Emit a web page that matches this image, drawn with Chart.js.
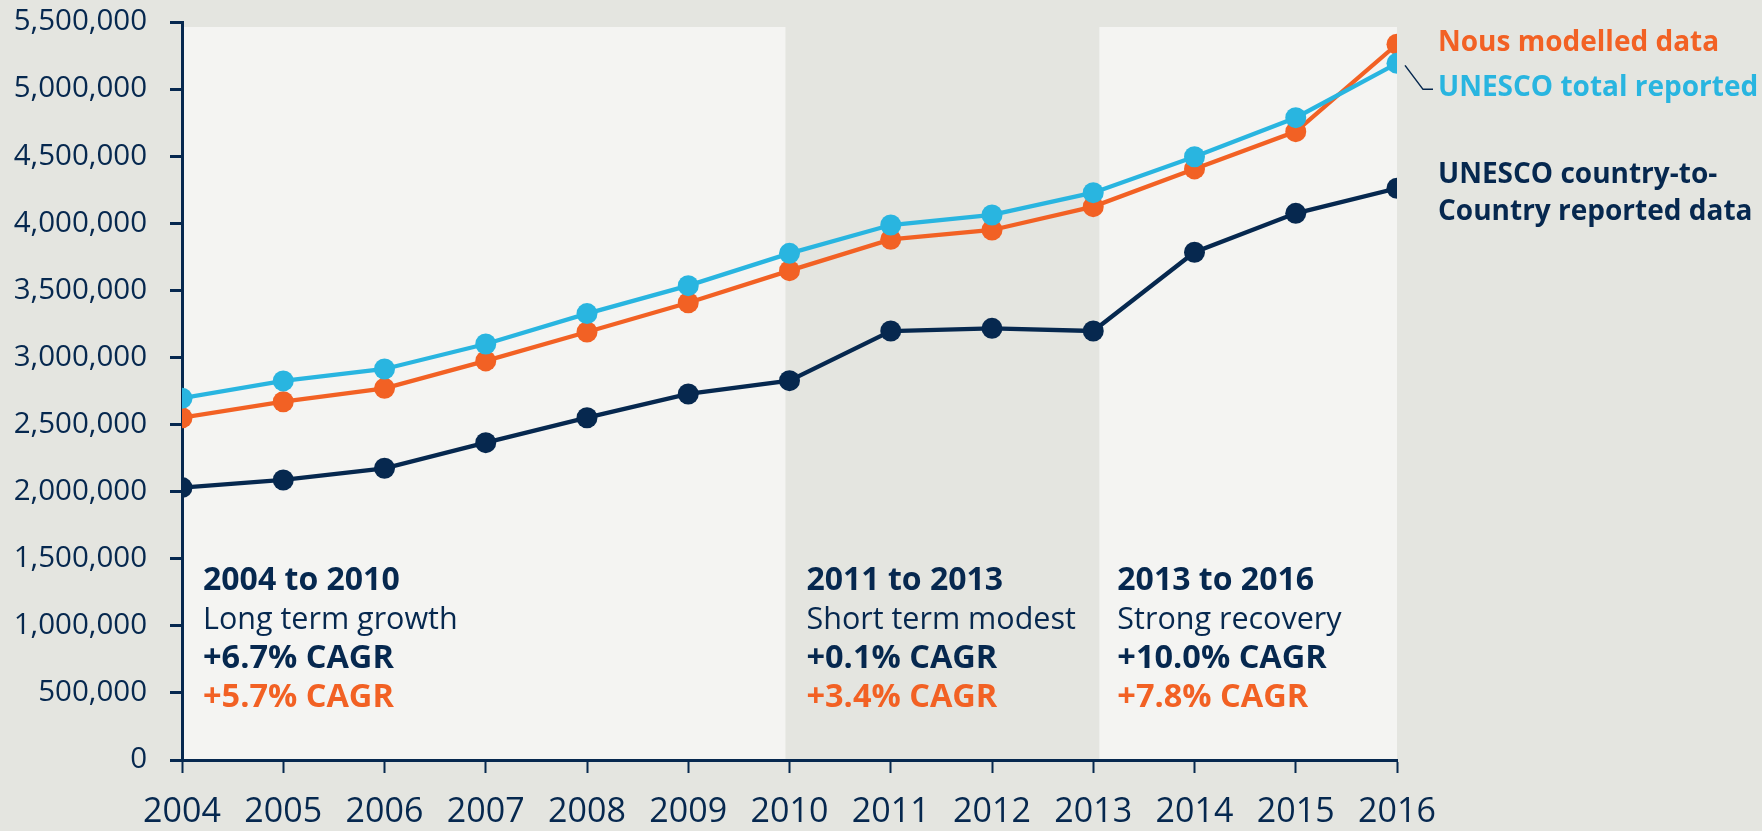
<!DOCTYPE html>
<html>
<head>
<meta charset="utf-8">
<script src="https://cdn.jsdelivr.net/npm/chart.js@4.4.1/dist/chart.umd.min.js"></script>
<style>
  html, body { margin: 0; padding: 0; background: #e4e5e0; }
  #wrap { width: 1762px; height: 831px; position: relative; }
  canvas { display: block; }
</style>
</head>
<body>
<div id="wrap"><canvas id="c" width="1762" height="831"></canvas></div>
<script>
// ---------- DATA ----------
const YEARS = [2004, 2005, 2006, 2007, 2008, 2009, 2010, 2011, 2012, 2013, 2014, 2015, 2016];
const NOUS_MODELLED = [2551000, 2670000, 2770000, 2974000, 3190000, 3408000, 3647000, 3880000, 3950000, 4124000, 4405000, 4683000, 5334000];
const UNESCO_TOTAL = [2696000, 2825000, 2914000, 3100000, 3327000, 3535000, 3776000, 3987000, 4062000, 4228000, 4496000, 4787000, 5192000];
const UNESCO_C2C = [2030000, 2087000, 2174000, 2365000, 2551000, 2728000, 2827000, 3197000, 3217000, 3197000, 3784000, 4074000, 4261000];
const Y_TICKS = [0, 500000, 1000000, 1500000, 2000000, 2500000, 3000000, 3500000, 4000000, 4500000, 5000000, 5500000];
const SERIES_NAMES = ['Nous modelled data', 'UNESCO total reported', ['UNESCO country-to-', 'Country reported data']];
// periods (light / shaded / light backgrounds), in years
const PERIOD_EDGES = [2004, 2009.96, 2013.06, 2016];
const PERIOD_TITLES = ['2004 to 2010', '2011 to 2013', '2013 to 2016'];
const PERIOD_SUBTITLES = ['Long term growth', 'Short term modest', 'Strong recovery'];
const PERIOD_CAGR_C2C = ['+6.7% CAGR', '+0.1% CAGR', '+10.0% CAGR'];
const PERIOD_CAGR_NOUS = ['+5.7% CAGR', '+3.4% CAGR', '+7.8% CAGR'];
const TEXT_ANCHOR_VALUE = 1267000; // baseline of the period titles, in y units

// ---------- STYLE ----------
const NAVY = '#06284f';
const ORANGE = '#f26124';
const BLUE = '#29b5e0';
const LIGHT = '#f4f4f2';
const FONT = "'Open Sans', 'Noto Sans', sans-serif";
const TEXT_INSET = [21, 21, 18];

const toXY = arr => arr.map((v, i) => ({ x: YEARS[i], y: v }));

const bandsPlugin = {
  id: 'bands',
  beforeDraw(chart) {
    const { ctx, chartArea, scales: { x } } = chart;
    ctx.save();
    ctx.fillStyle = LIGHT;
    const top = chartArea.top + 5;
    [[0, 1], [2, 3]].forEach(([a, b]) => {
      const x0 = x.getPixelForValue(PERIOD_EDGES[a]);
      const x1 = x.getPixelForValue(PERIOD_EDGES[b]);
      ctx.fillRect(x0, top, x1 - x0, chartArea.bottom - top);
    });
    ctx.restore();
  }
};

const textPlugin = {
  id: 'texts',
  afterDraw(chart) {
    const { ctx, chartArea, scales: { x, y } } = chart;
    ctx.save();
    ctx.textAlign = 'left';
    ctx.textBaseline = 'alphabetic';
    const base = y.getPixelForValue(TEXT_ANCHOR_VALUE);
    const lh = 39;
    for (let i = 0; i < 3; i++) {
      const tx = x.getPixelForValue(PERIOD_EDGES[i]) + TEXT_INSET[i];
      ctx.fillStyle = NAVY;
      ctx.font = `bold 32px ${FONT}`;
      ctx.fillText(PERIOD_TITLES[i], tx, base);
      ctx.font = `30.5px ${FONT}`;
      ctx.fillText(PERIOD_SUBTITLES[i], tx, base + lh);
      ctx.font = `bold 32.5px ${FONT}`;
      ctx.fillText(PERIOD_CAGR_C2C[i], tx, base + 2 * lh);
      ctx.fillStyle = ORANGE;
      ctx.fillText(PERIOD_CAGR_NOUS[i], tx, base + 3 * lh);
    }
    // series labels on the right
    const last = YEARS.length - 1;
    const lx = chartArea.right + 41;
    ctx.textBaseline = 'middle';
    ctx.font = `bold 28px ${FONT}`;
    ctx.fillStyle = ORANGE;
    ctx.fillText(SERIES_NAMES[0], lx, y.getPixelForValue(NOUS_MODELLED[last]) - 1);
    const by = y.getPixelForValue(UNESCO_TOTAL[last]);
    ctx.fillStyle = BLUE;
    ctx.fillText(SERIES_NAMES[1], lx, by + 25);
    const ny = y.getPixelForValue(UNESCO_C2C[last]);
    ctx.fillStyle = NAVY;
    ctx.fillText(SERIES_NAMES[2][0], lx, ny - 13);
    ctx.fillText(SERIES_NAMES[2][1], lx, ny + 24);
    // connector for the blue label
    const px = x.getPixelForValue(YEARS[last]);
    ctx.strokeStyle = NAVY;
    ctx.lineWidth = 1.5;
    ctx.beginPath();
    ctx.moveTo(px + 8, by + 2);
    ctx.lineTo(px + 26, by + 26);
    ctx.lineTo(px + 36, by + 26);
    ctx.stroke();
    ctx.restore();
  }
};

const ds = (label, data, color, order) => ({
  label,
  data: toXY(data),
  borderColor: color,
  backgroundColor: color,
  pointBackgroundColor: color,
  pointBorderColor: color,
  pointBorderWidth: 0,
  pointRadius: 10.5,
  pointHoverRadius: 10.5,
  borderWidth: 4.3,
  tension: 0,
  order
});

new Chart(document.getElementById('c'), {
  type: 'line',
  data: {
    datasets: [
      ds(SERIES_NAMES[1], UNESCO_TOTAL, BLUE, 1),
      ds(SERIES_NAMES[0], NOUS_MODELLED, ORANGE, 2),
      ds(SERIES_NAMES[2].join(' '), UNESCO_C2C, NAVY, 3)
    ]
  },
  plugins: [bandsPlugin, textPlugin],
  options: {
    responsive: false,
    animation: false,
    events: [],
    layout: { padding: { top: 22, right: 365, bottom: 0, left: 0 } },
    plugins: { legend: { display: false }, tooltip: { enabled: false } },
    scales: {
      x: {
        type: 'linear',
        min: YEARS[0],
        max: YEARS[YEARS.length - 1],
        afterBuildTicks: s => { s.ticks = YEARS.map(v => ({ value: v })); },
        afterFit: s => { s.height = 71; },
        border: { display: true, color: NAVY, width: 3 },
        grid: { display: true, drawOnChartArea: false, drawTicks: true, tickLength: 13, tickColor: NAVY, tickWidth: 2 },
        ticks: {
          color: NAVY, padding: 19, maxRotation: 0, autoSkip: false,
          font: { family: FONT, size: 34 },
          callback: v => String(v)
        }
      },
      y: {
        min: Y_TICKS[0],
        max: Y_TICKS[Y_TICKS.length - 1],
        afterBuildTicks: s => { s.ticks = Y_TICKS.map(v => ({ value: v })); },
        afterFit: s => { s.width = 182; s.paddingTop = 0; s.paddingBottom = 0; },
        border: { display: true, color: NAVY, width: 3 },
        grid: { display: true, drawOnChartArea: false, drawTicks: true, tickLength: 12, tickColor: NAVY, tickWidth: 3 },
        ticks: {
          color: NAVY, padding: 23,
          font: { family: FONT, size: 29.5 },
          callback: v => v.toLocaleString('en-US')
        }
      }
    }
  }
});
</script>
</body>
</html>
